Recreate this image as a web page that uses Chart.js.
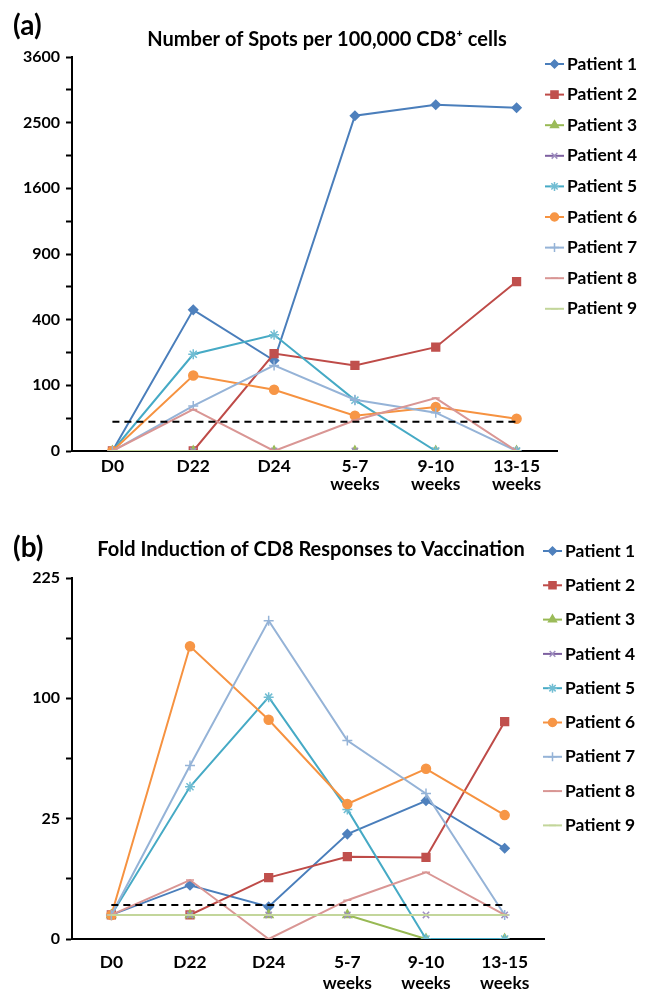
<!DOCTYPE html>
<html>
<head>
<meta charset="utf-8">
<script src="https://cdn.jsdelivr.net/npm/chart.js@4.4.0/dist/chart.umd.min.js"></script>
<style>
body { margin: 0; background: #fff; }
.panel { position: relative; width: 650px; height: 496px; }
.tag { position: absolute; left: 13px; font: bold 28px Lato, sans-serif; color: #000; }
</style>
</head>
<body>
<div class="panel"><canvas id="spots" width="650" height="496"></canvas><div class="tag" style="top:7px">(a)</div></div>
<div class="panel"><canvas id="fold" width="650" height="496"></canvas><div class="tag" style="top:33px">(b)</div></div>
<script>
// time points on the x axis
const timepoints = ['D0', 'D22', 'D24', ['5-7', 'weeks'], ['9-10', 'weeks'], ['13-15', 'weeks']];
const patients = ['Patient 1', 'Patient 2', 'Patient 3', 'Patient 4', 'Patient 5',
                  'Patient 6', 'Patient 7', 'Patient 8', 'Patient 9'];

// (a) number of spots per 100,000 CD8+ cells
const spotsP1 = [0, 462, 190, 2607, 2780, 2733];
const spotsP2 = [0, 0, 220, 170, 250, 666];
const spotsP3 = [0, 0, 0, 0, 0, 0];
const spotsP4 = [0, 0, 0, 0, 0, 0];
const spotsP5 = [0, 217, 313, 60, 0, 0];
const spotsP6 = [0, 132, 87, 29, 45, 24];
const spotsP7 = [0, 47, 170, 61, 34, 0];
const spotsP8 = [0, 40, 0, 22, 65, 0];
const spotsP9 = [0, 0, 0, 0, 0, 0];
const spotsCutoff = [20, 20, 20, 20, 20, 20];
const spotTicks = [0, 100, 400, 900, 1600, 2500, 3600];
const spotMinorTicks = [25, 225, 625, 1225, 2025, 3025];

// (b) fold induction of CD8 responses
const foldP1 = [1, 5, 1.8, 19, 33, 14.2];
const foldP2 = [1, 1, 6.5, 11.7, 11.5, 81.5];
const foldP3 = [1, 1, 1, 1, 0, 0];
const foldP4 = [1, 1, 1, 1, 1, 1];
const foldP5 = [1, 40, 101, 29, 0, 0];
const foldP6 = [1, 148, 83, 31.5, 50, 26.5];
const foldP7 = [1, 52, 175, 68, 36.5, 1];
const foldP8 = [1, 6, 0, 2.6, 7.7, 1];
const foldP9 = [1, 1, 1, 1, 1, 1];
const foldCutoff = [2, 2, 2, 2, 2, 2];
const foldTicks = [0, 25, 100, 225];
const foldMinorTicks = [6.25, 56.25, 156.25];

const lineColors = ['#4A7EBB', '#BE4B48', '#98B954', '#7D60A0', '#46AAC5', '#F69240', '#95B3D7', '#D99694', '#C3D69B'];
const markColors = ['#4F81BD', '#C0504D', '#9BBB59', '#9F8FC0', '#71BDD3', '#F79646', '#95B3D7', '#D99694', '#C3D69B'];
const markers = ['rectRot', 'rect', 'triangle', 'crossRot', 'star', 'circle', 'cross', 'line', 'line'];
const markSizes = [4.5, 5.5, 5, 4.5, 5, 4.5, 5, 4, 4];

const FONT = 'Lato';

// square-root value axis
class SqrtScale extends Chart.LinearScale {
  getPixelForValue(value) {
    if (value === null || isNaN(value)) return NaN;
    const a = Math.sqrt(this.min), b = Math.sqrt(this.max);
    return this.getPixelForDecimal((Math.sqrt(Math.max(value, 0)) - a) / (b - a));
  }
  getValueForPixel(pixel) {
    const a = Math.sqrt(this.min), b = Math.sqrt(this.max);
    const s = a + this.getDecimalForPixel(pixel) * (b - a);
    return s * s;
  }
}
SqrtScale.id = 'sqrt';
SqrtScale.defaults = {};
Chart.register(SqrtScale);

function patientSets(series, cutoff) {
  let sets = series.map(function (vals, i) {
    return {
      label: patients[i],
      data: vals,
      borderColor: lineColors[i],
      backgroundColor: markColors[i],
      pointBackgroundColor: markColors[i],
      pointBorderColor: markColors[i],
      pointStyle: markers[i],
      pointRadius: markSizes[i],
      pointBorderWidth: 1.5,
      borderWidth: 2,
      order: -i
    };
  });
  sets.push({
    label: 'cutoff', data: cutoff, borderColor: '#000', borderWidth: 2,
    borderDash: [7, 5], pointRadius: 0, order: -20
  });
  return sets;
}

// legend drawn next to the plot, line + marker like the original
function sideLegend(x, top, gap) {
  return {
    id: 'sideLegend',
    afterDraw(chart) {
      let ctx = chart.ctx;
      ctx.save();
      ctx.font = 'bold 17.4px ' + FONT;
      ctx.textBaseline = 'middle';
      chart.data.datasets.forEach(function (ds, i) {
        if (i >= patients.length) return;
        let y = top + i * gap;
        ctx.strokeStyle = ds.borderColor;
        ctx.lineWidth = 2;
        ctx.beginPath();
        ctx.moveTo(x, y);
        ctx.lineTo(x + 19, y);
        ctx.stroke();
        ctx.fillStyle = ds.pointBackgroundColor;
        ctx.strokeStyle = ds.pointBorderColor;
        ctx.lineWidth = 1.5;
        Chart.helpers.drawPoint(ctx, {pointStyle: ds.pointStyle, radius: ds.pointRadius - 0.5, rotation: 0, borderWidth: 1.5}, x + 9.5, y);
        ctx.fillStyle = '#000';
        ctx.fillText(ds.label, x + 22, y);
      });
      ctx.restore();
    }
  };
}

function makeChart(id, cfg) {
  let allTicks = cfg.ticks.concat(cfg.minor).sort(function (a, b) { return a - b; });
  return new Chart(document.getElementById(id), {
    type: 'line',
    data: { labels: timepoints, datasets: cfg.datasets },
    options: {
      responsive: false,
      animation: false,
      layout: { padding: { left: cfg.padLeft, right: cfg.padRight, top: 0, bottom: 0 } },
      scales: {
        x: {
          offset: true,
          grid: { display: true, drawOnChartArea: false, drawTicks: false },
          border: { color: '#000', width: 2 },
          ticks: { color: '#000', padding: cfg.xPad, maxRotation: 0, autoSkip: false,
                   font: { family: FONT, size: 17.4, weight: 'bold', lineHeight: cfg.xLine } },
          afterFit: function (s) { s.height = cfg.xHeight; }
        },
        y: {
          type: 'sqrt',
          min: 0,
          max: cfg.max,
          afterBuildTicks: function (s) { s.ticks = allTicks.map(function (v) { return {value: v}; }); },
          afterFit: function (s) { s.width = cfg.yWidth; },
          grid: { drawOnChartArea: false, tickLength: 6, tickColor: '#000', tickWidth: 2 },
          border: { color: '#000', width: 2 },
          ticks: {
            autoSkip: false, color: '#000', padding: 6,
            font: { family: FONT, size: 16, weight: 'bold' },
            callback: function (v) { return cfg.ticks.includes(v) ? String(v) : ''; }
          }
        },
        side: {
          position: 'right', min: 0, max: 1,
          ticks: { display: false }, grid: { display: false }, border: { display: false },
          afterFit: function (s) { s.width = cfg.sideWidth; }
        }
      },
      plugins: {
        legend: { display: false },
        tooltip: { enabled: false },
        title: {
          display: true, text: cfg.title, color: '#000',
          font: { family: FONT, size: 20, weight: 'bold' },
          padding: cfg.titlePad
        }
      }
    },
    plugins: [sideLegend(cfg.legendX, cfg.legendTop, cfg.legendGap)]
  });
}

makeChart('spots', {
  datasets: patientSets([spotsP1, spotsP2, spotsP3, spotsP4, spotsP5, spotsP6, spotsP7, spotsP8, spotsP9], spotsCutoff),
  ticks: spotTicks, minor: spotMinorTicks, max: 3600,
  title: 'Number of Spots per 100,000 CD8\u207A cells',
  titlePad: { top: 28, bottom: 5 },
  padLeft: 4, padRight: 0, yWidth: 68, sideWidth: 93,
  xHeight: 45, xPad: 6, xLine: 18 / 17.4,
  legendX: 545, legendTop: 64, legendGap: 30.6
});

makeChart('fold', {
  datasets: patientSets([foldP1, foldP2, foldP3, foldP4, foldP5, foldP6, foldP7, foldP8, foldP9], foldCutoff),
  ticks: foldTicks, minor: foldMinorTicks, max: 225,
  title: 'Fold Induction of CD8 Responses to Vaccination',
  titlePad: { top: 42, bottom: 16 },
  padLeft: 0, padRight: 28, yWidth: 72, sideWidth: 78,
  xHeight: 53, xPad: 12.5, xLine: 21 / 17.4,
  legendX: 543, legendTop: 55, legendGap: 34.3
});
</script>
</body>
</html>
